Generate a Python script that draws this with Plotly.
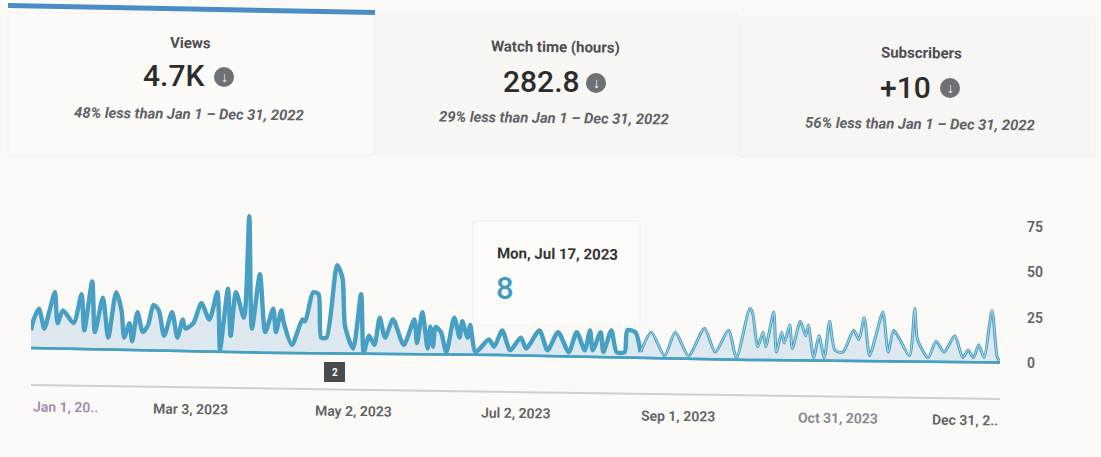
import pandas as pd
import plotly.graph_objects as go

W, H = 1101, 457

# daily views, the page is tilted so values follow the drawn axis
days = [0, 1, 3, 5, 7, 9, 10, 12, 16, 19, 20, 23, 24, 27, 29, 32, 34, 35, 37, 38, 40, 42, 44, 46, 48, 50,
        53, 55, 57, 58, 61, 64, 67, 70, 71, 72, 74, 75, 77, 80, 82, 83, 86, 88, 91, 92, 94, 95, 98, 102,
        103, 106, 108, 109, 111, 115, 117, 118, 121, 124, 125, 127, 129, 131, 133, 136, 140, 144, 145,
        147, 149, 150, 151, 152, 154, 156, 159, 161, 162, 164, 165, 167, 172, 174, 177, 180, 184, 186,
        191, 194, 198, 202, 205, 208, 210, 211, 214, 215, 218, 220, 223, 224, 227, 229, 233, 238, 242,
        247, 253, 257, 262, 265, 270, 271, 273, 275, 276, 279, 280, 282, 283, 285, 286, 289, 291, 292,
        294, 296, 298, 300, 302, 305, 309, 311, 313, 315, 317, 320, 322, 324, 326, 330, 332, 333, 337,
        340, 343, 347, 350, 352, 354, 356, 358, 361, 363, 364]
views = [18, 24, 30, 19, 29, 39, 22, 29, 22, 38, 18, 45, 17, 36, 14, 39, 29, 14, 22, 12, 28, 17, 21, 32, 29, 15,
         28, 14, 24, 19, 22, 33, 24, 39, 7, 18, 41, 15, 39, 25, 81, 19, 49, 17, 30, 17, 29, 22, 10, 24,
         23, 39, 38, 14, 14, 54, 47, 20, 8, 38, 6, 15, 10, 25, 14, 24, 10, 24, 11,
         28, 8, 20, 9, 20, 17, 6, 25, 14, 23, 14, 21, 6, 13, 9, 18, 7, 14, 8,
         18, 7, 17, 6, 17, 7, 18, 7, 17, 6, 18, 6, 6, 18, 17, 6, 17, 4, 17,
         4, 19, 6, 18, 3, 30, 28, 9, 17, 9, 28, 6, 17, 11, 21, 8, 23, 15, 21,
         3, 15, 3, 23, 7, 6, 18, 13, 25, 4, 13, 28, 6, 18, 14, 4, 30, 13, 3,
         12, 6, 15, 3, 7, 3, 10, 3, 29, 3, 1]
base_days = [0, 86, 176, 270, 364]
base_values = [8.3, 5.7, 4.4, 1.7, 0.3]
split_day = 229

y_ticks = [0, 25, 50, 75]
x_tick_days = [0, 60, 121, 182, 243, 303, 364]
x_tick_labels = ["Jan 1, 20..", "Mar 3, 2023", "May 2, 2023", "Jul 2, 2023", "Sep 1, 2023", "Oct 31, 2023", "Dec 31, 2.."]

kpi_titles = ["Views", "Watch time (hours)", "Subscribers"]
kpi_values = ["4.7K", "282.8", "+10"]
kpi_notes = ["48% less than Jan 1 – Dec 31, 2022", "29% less than Jan 1 – Dec 31, 2022", "56% less than Jan 1 – Dec 31, 2022"]

BLUE = "#479fc3"
FILL = "#dde9ee"
BG = "#fbfaf6"
GREY = "#5f6266"


def px(x):
    return x / W


def py(y):
    return 1 - y / H


def to_date(d):
    return pd.Timestamp("2023-01-01") + pd.Timedelta(days=d)


dates = [to_date(d) for d in days]
base_dates = [to_date(d) for d in base_days]
n_split = days.index(split_day) + 1
curve = dict(shape="spline", smoothing=0.7)

fig = go.Figure()
fig.add_trace(go.Scatter(x=base_dates, y=base_values, mode="lines", line=dict(color=BLUE, width=2.5), hoverinfo="skip"))
fig.add_trace(go.Scatter(x=dates, y=views, mode="lines", fill="tonexty", fillcolor=FILL, line=dict(color=BLUE, width=0, **curve), hoverinfo="skip"))
fig.add_trace(go.Scatter(x=dates[:n_split], y=views[:n_split], mode="lines", line=dict(color=BLUE, width=4.4, **curve)))
fig.add_trace(go.Scatter(x=dates[n_split - 1:], y=views[n_split - 1:], mode="lines", line=dict(color=BLUE, width=3, **curve)))
fig.add_trace(go.Scatter(x=dates[n_split - 1:], y=views[n_split - 1:], mode="lines", line=dict(color="#d6e7ee", width=0.8, **curve)))
fig.add_trace(go.Scatter(x=base_dates, y=base_values, mode="lines", line=dict(color=BLUE, width=2.5), hoverinfo="skip"))

shapes = []
annotations = []


def text(x, y, s, size, color, bold=False, italic=False, anchor="center", weight=None, angle=0.7):
    annotations.append(dict(xref="paper", yref="paper", x=px(x), y=py(y), text=s, showarrow=False,
                            xanchor=anchor, yanchor="middle", textangle=angle,
                            font=dict(family="Roboto", size=size, color=color,
                                      weight=weight if weight else (700 if bold else 400),
                                      style="italic" if italic else "normal")))


def rect(x0, y0, x1, y1, fill, line=None):
    shapes.append(dict(type="rect", xref="paper", yref="paper", x0=px(x0), y0=py(y0), x1=px(x1), y1=py(y1),
                       fillcolor=fill, line=dict(color=line or fill, width=1), layer="below"))


# kpi tabs
rect(8, 13, 373, 155, "#fcfbf7", "#f3f2ee")
rect(375, 13, 738, 155, "#f8f7f3", "#f2f1ed")
rect(740, 17, 1096, 157, "#f7f6f2", "#f2f1ed")
shapes.append(dict(type="path", xref="paper", yref="paper", fillcolor="#4a8cc3", line=dict(width=0),
                   path=f"M {px(8)} {py(3)} L {px(375)} {py(10)} L {px(375)} {py(15)} L {px(8)} {py(8)} Z"))

kpi_pos = [(190, 43, 174, 76, 224, 77, 189, 114), (555, 47, 541, 81, 596, 83, 554, 118), (921, 53, 905, 87, 950, 88, 920, 124)]
for i, (tx, ty, vx, vy, ix, iy, nx, ny) in enumerate(kpi_pos):
    text(tx, ty, kpi_titles[i], 15, "#4d4d52", weight=700)
    text(vx, vy, kpi_values[i], 30, "#2c2c2c", weight=500, angle=0)
    text(nx, ny, kpi_notes[i], 14.8, "#5f6269", bold=True, italic=True)
    shapes.append(dict(type="circle", xref="paper", yref="paper", x0=px(ix - 10), x1=px(ix + 10), y0=py(iy - 10), y1=py(iy + 10),
                       fillcolor="#6d7075", line=dict(width=0)))
    text(ix, iy, "↓", 14, "#fbfaf6", bold=True, angle=0)

# tooltip
rect(473, 221, 640, 326, "#fdfcf9", "#efeeea")
text(495, 254, "Mon, Jul 17, 2023", 15, "#333333", weight=700, anchor="left")
text(494, 288, "8", 31, "#3f9bbf", weight=500, anchor="left", angle=0)

# annotation badge
shapes.append(dict(type="rect", xref="paper", yref="paper", x0=px(324), x1=px(345), y0=py(362), y1=py(382),
                   fillcolor="#4a4b4d", line=dict(width=0)))
text(334.5, 372, "2", 10, "#fbfaf6", bold=True, angle=0)

# x axis rule, tilted like the page
shapes.append(dict(type="line", xref="paper", yref="paper", x0=px(31), x1=px(1000), y0=py(385), y1=py(399),
                   line=dict(color="#cfcfcb", width=2)))

tick_y = [407, 409, 411, 413, 416, 418, 420]
tick_colors = ["#a48bae", GREY, GREY, GREY, GREY, "#808794", GREY]
for d, label, y, color in zip(x_tick_days, x_tick_labels, tick_y, tick_colors):
    anchor = "left" if d == x_tick_days[0] else "right" if d == x_tick_days[-1] else "center"
    annotations.append(dict(xref="x", yref="paper", x=to_date(d), y=py(y), text=label, showarrow=False,
                            xanchor=anchor, yanchor="middle", textangle=0.7,
                            font=dict(family="Roboto", size=14, color=color, weight=600)))

y_top, y_bottom = 205, 372
scale = (363 - 227) / 75
fig.update_layout(
    width=W, height=H, margin=dict(l=0, r=0, t=0, b=0),
    paper_bgcolor=BG, plot_bgcolor="rgba(0,0,0,0)", showlegend=False,
    shapes=shapes, annotations=annotations,
    xaxis=dict(domain=[px(31), px(1000)], range=[to_date(0), to_date(364)], showgrid=False, zeroline=False,
               showline=False, showticklabels=False, ticks=""),
    yaxis=dict(domain=[py(y_bottom), py(y_top)], range=[(363 - y_bottom) / scale, (363 - y_top) / scale],
               side="right", tickvals=y_ticks, showgrid=False, zeroline=False, showline=False, ticks="",
               ticklabelstandoff=26, tickfont=dict(family="Roboto", size=14, color=GREY, weight=600)),
)

# page margin would push the figure 8px off the window corner
fig.write_html("out.html", config=dict(displayModeBar=False),
               post_script=f"document.body.style.margin='0';document.body.style.background='{BG}';")
